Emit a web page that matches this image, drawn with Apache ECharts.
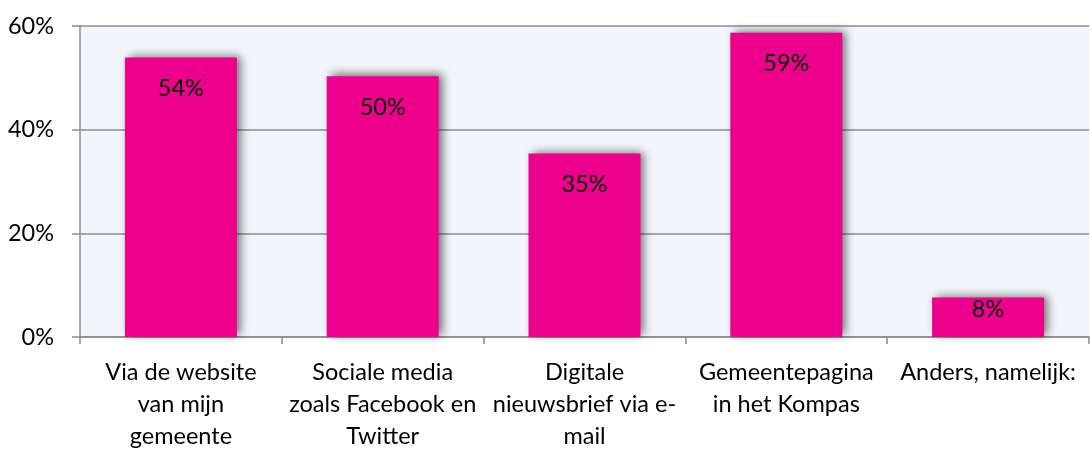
<!DOCTYPE html>
<html>
<head>
<meta charset="utf-8">
<script src="https://cdn.jsdelivr.net/npm/echarts@6/dist/echarts.min.js"></script>
<style>
  html, body { margin: 0; padding: 0; background: #fff; }
  #chart { width: 1092px; height: 452px; }
</style>
</head>
<body>
<div id="chart"></div>
<script>
var categories = [
    'Via de website\nvan mijn\ngemeente',
    'Sociale media\nzoals Facebook en\nTwitter',
    'Digitale\nnieuwsbrief via e-\nmail',
    'Gemeentepagina\nin het Kompas',
    'Anders, namelijk:'
];
var values = [53.9, 50.3, 35.4, 58.7, 7.6];
var yTicks = [0, 20, 40, 60];

var myChart = echarts.init(document.getElementById('chart'));
var font = 'Lato, "Open Sans", sans-serif';

var seriesData = [];
for (var i = 0; i < values.length; i++) {
    var item = { value: values[i] };
    // short bar: label sits right at the top
    if (values[i] < 15) {
        item.label = { distance: 0 };
    }
    seriesData.push(item);
}

option = {
    animation: false,
    grid: {
        left: 80,
        right: 3,
        top: 26,
        bottom: 112,
        show: true,
        backgroundColor: '#f2f6fa',
        borderWidth: 0
    },
    xAxis: {
        type: 'category',
        data: categories,
        axisLine: { show: true, lineStyle: { color: '#8c8c8c', width: 1.5 } },
        axisTick: { show: true, alignWithLabel: false, length: 7, lineStyle: { color: '#8c8c8c', width: 1.5 } },
        axisLabel: {
            interval: 0,
            color: '#000',
            fontSize: 23.5,
            fontFamily: font,
            lineHeight: 32,
            margin: 19
        }
    },
    yAxis: {
        type: 'value',
        min: yTicks[0],
        max: yTicks[yTicks.length - 1],
        interval: 20,
        axisLine: { show: true, lineStyle: { color: '#8c8c8c', width: 1.5 } },
        axisTick: { show: true, length: 8, lineStyle: { color: '#8c8c8c', width: 1.5 } },
        splitLine: { show: true, lineStyle: { color: '#8c8c8c', width: 1.5 } },
        axisLabel: {
            color: '#000',
            fontSize: 23.5,
            fontFamily: font,
            margin: 26,
            formatter: function (v) { return v + '%'; }
        }
    },
    series: [
        {
            type: 'bar',
            data: seriesData,
            barWidth: '55.5%',
            itemStyle: {
                color: '#ec008c',
                shadowColor: 'rgba(0,0,0,0.55)',
                shadowBlur: 9,
                shadowOffsetX: 4,
                shadowOffsetY: -2
            },
            label: {
                show: true,
                position: 'insideTop',
                distance: 19,
                color: '#000',
                fontSize: 23.5,
                fontFamily: font,
                formatter: function (p) { return Math.round(p.value) + '%'; }
            }
        }
    ]
};
myChart.setOption(option);
</script>
</body>
</html>
